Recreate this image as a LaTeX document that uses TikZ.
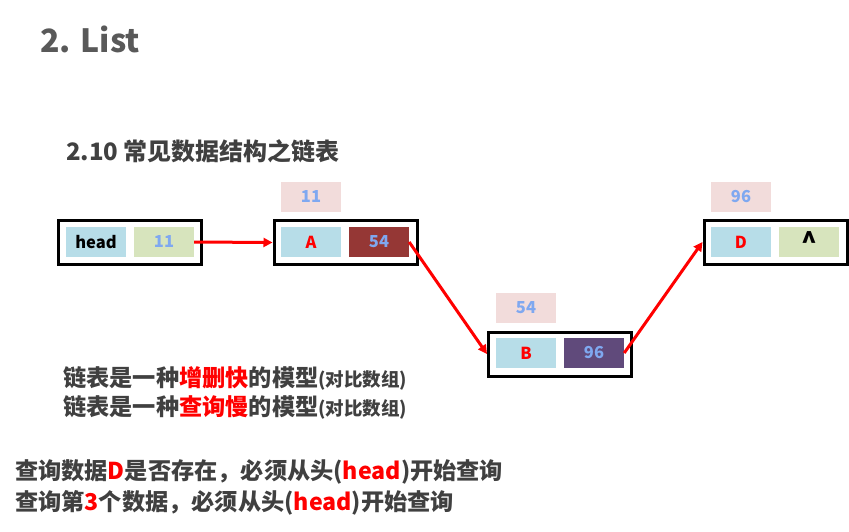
\documentclass[tikz,border=0pt]{standalone}
\usepackage{fontspec}
\setmainfont{Noto Sans CJK SC}
\usetikzlibrary{arrows.meta}
\definecolor{txtgray}{HTML}{404040}
\definecolor{titlegray}{HTML}{595959}
\definecolor{cellblue}{HTML}{B7DDE8}
\definecolor{cellgreen}{HTML}{D7E4BD}
\definecolor{cellred}{HTML}{953735}
\definecolor{cellpurple}{HTML}{604A7B}
\definecolor{addrpink}{HTML}{F2DCDB}
\definecolor{numblue}{HTML}{7FA8F0}
\definecolor{hot}{HTML}{FF0000}
\tikzset{
  outerbox/.style={draw=black, line width=3pt, minimum width=143pt, minimum height=44pt, inner sep=0pt},
  cell/.style={minimum width=60pt, minimum height=30pt, inner sep=0pt, font=\fontsize{16.5pt}{18pt}\selectfont\bfseries},
  addr/.style={cell, fill=addrpink, text=numblue},
  link/.style={draw=hot, line width=3pt, -{Triangle[length=9pt,width=9pt]}},
  plain/.style={anchor=west, inner sep=0pt, text=txtgray, font=\bfseries}
}
\begin{document}
\begin{tikzpicture}[x=1pt, y=-1pt]
\useasboundingbox (0,0) rectangle (849,531);

% headings
\node[plain, text=titlegray, font=\fontsize{32pt}{36pt}\selectfont\bfseries] (title) at (40,39) {2. List};
\node[plain, font=\fontsize{24pt}{26pt}\selectfont\bfseries] (sub) at (66,151) {2.10 常见数据结构之链表};

% head node
\node[outerbox] (hbox) at (130,242.5) {};
\node[cell, fill=cellblue, text=black] (hname) at (96,242) {head};
\node[cell, fill=cellgreen, text=numblue] (hnext) at (164,242) {11};

% node A
\node[addr] (aaddr) at (311,197) {11};
\node[outerbox] (abox) at (345.5,242.5) {};
\node[cell, fill=cellblue, text=hot] (aval) at (311,242) {A};
\node[cell, fill=cellred, text=numblue] (anext) at (379,242) {54};

% node B
\node[addr] (baddr) at (526,308) {54};
\node[outerbox] (bbox) at (560,354) {};
\node[cell, fill=cellblue, text=hot] (bval) at (526,353) {B};
\node[cell, fill=cellpurple, text=numblue] (bnext) at (594,353) {96};

% node D
\node[addr] (daddr) at (741,196.5) {96};
\node[outerbox] (dbox) at (775.5,242) {};
\node[cell, fill=cellblue, text=hot] (dval) at (741,242) {D};
\node[cell, fill=cellgreen, text=black] (dnext) at (809,242) {\raisebox{-5pt}{\fontsize{26pt}{26pt}\selectfont\textasciicircum}};

% links
\draw[link] (hnext.east) -- (abox.west);
\draw[link] (anext.east) -- (bbox.west);
\draw[link] (bnext.east) -- (dbox.west);

% notes
\node[plain, font=\fontsize{23.2pt}{26pt}\selectfont\bfseries] (note1) at (63,378)
  {链表是一种\textcolor{hot}{增删快}的模型{\fontsize{18.5pt}{20pt}\selectfont(对比数组)}};
\node[plain, font=\fontsize{23.2pt}{26pt}\selectfont\bfseries] (note2) at (63,407)
  {链表是一种\textcolor{hot}{查询慢}的模型{\fontsize{18.5pt}{20pt}\selectfont(对比数组)}};
\node[plain, font=\fontsize{23.2pt}{28pt}\selectfont\bfseries] (note3) at (15,472)
  {查询数据\textcolor{hot}{D}是否存在，必须从头(\textcolor{hot}{head})开始查询};
\node[plain, font=\fontsize{23.2pt}{28pt}\selectfont\bfseries] (note4) at (15,503)
  {查询第\textcolor{hot}{3}个数据，必须从头(\textcolor{hot}{head})开始查询};
\end{tikzpicture}
\end{document}
